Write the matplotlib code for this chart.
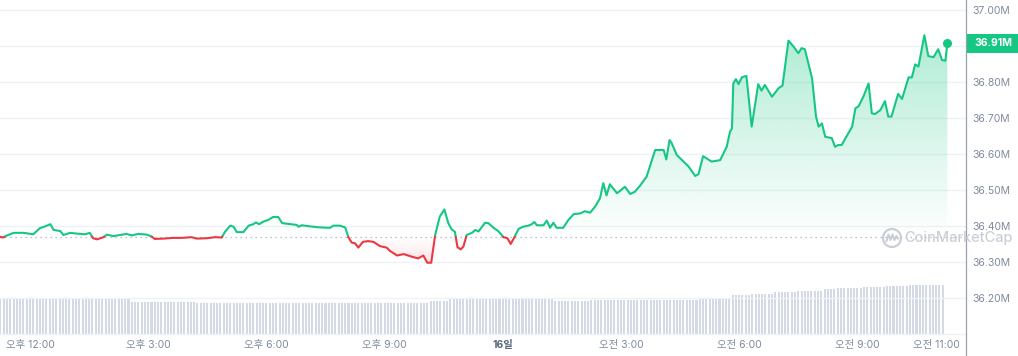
import numpy as np
import matplotlib
matplotlib.use("Agg")
import matplotlib.pyplot as plt
from matplotlib.path import Path
from matplotlib.patches import PathPatch, Rectangle, Circle
from matplotlib.lines import Line2D
import matplotlib.transforms as mtransforms

plt.rcParams['font.family'] = ['Inter', 'Noto Sans CJK KR', 'DejaVu Sans']

# ---------------- data ----------------
# minutes after 12:00 (day 15) and market cap in $M
minutes = [-46, -41, -36, -25, -10, 5, 15, 23, 31, 36,
           46, 51, 61, 71, 84, 91, 96, 102, 112, 117,
           127, 137, 147, 155, 165, 178, 185, 190, 203, 218,
           231, 246, 254, 269, 282, 292, 297, 305, 310, 315,
           325, 333, 340, 344, 349, 355, 363, 370, 378, 384,
           393, 406, 409, 414, 426, 442, 457, 462, 472, 480,
           485, 490, 495, 500, 507, 515, 523, 533, 543, 548,
           559, 569, 581, 591, 599, 605, 611, 617, 624, 631,
           637, 642, 647, 651, 656, 660, 665, 673, 678, 683,
           693, 698, 706, 713, 721, 727, 732, 737, 744, 751,
           759, 764, 768, 772, 782, 787, 792, 797, 802, 812,
           820, 828, 838, 845, 853, 861, 868, 873, 878, 883,
           894, 906, 914, 921, 929, 939, 952, 965, 969, 974,
           977, 985, 993, 1003, 1013, 1018, 1025, 1038, 1051, 1061,
           1066, 1069, 1071, 1075, 1079, 1084, 1091, 1099, 1109, 1114,
           1119, 1130, 1140, 1146, 1155, 1163, 1170, 1175, 1180, 1191,
           1197, 1201, 1206, 1211, 1221, 1226, 1231, 1236, 1252, 1257,
           1262, 1269, 1277, 1282, 1287, 1295, 1302, 1307, 1312, 1322,
           1328, 1338, 1343, 1348, 1353, 1362, 1368, 1376, 1383, 1389,
           1394, 1397]

mcap = [36.370, 36.368, 36.373, 36.381, 36.381, 36.377, 36.394, 36.399, 36.405, 36.389,
        36.386, 36.375, 36.381, 36.379, 36.377, 36.381, 36.366, 36.363, 36.369, 36.376,
        36.372, 36.375, 36.378, 36.374, 36.378, 36.376, 36.371, 36.364, 36.365, 36.367,
        36.367, 36.369, 36.365, 36.366, 36.369, 36.368, 36.384, 36.401, 36.398, 36.383,
        36.383, 36.401, 36.405, 36.410, 36.405, 36.412, 36.417, 36.425, 36.425, 36.408,
        36.406, 36.403, 36.398, 36.402, 36.399, 36.396, 36.395, 36.401, 36.401, 36.396,
        36.368, 36.354, 36.352, 36.340, 36.356, 36.358, 36.356, 36.344, 36.340, 36.331,
        36.318, 36.322, 36.315, 36.310, 36.318, 36.298, 36.298, 36.375, 36.426, 36.446,
        36.408, 36.391, 36.384, 36.341, 36.335, 36.343, 36.375, 36.381, 36.389, 36.385,
        36.409, 36.408, 36.395, 36.386, 36.369, 36.366, 36.350, 36.366, 36.392, 36.398,
        36.401, 36.405, 36.411, 36.402, 36.402, 36.415, 36.395, 36.409, 36.395, 36.395,
        36.417, 36.433, 36.435, 36.441, 36.437, 36.455, 36.477, 36.519, 36.485, 36.516,
        36.491, 36.509, 36.489, 36.495, 36.512, 36.537, 36.611, 36.611, 36.585, 36.639,
        36.631, 36.597, 36.583, 36.565, 36.539, 36.544, 36.594, 36.579, 36.583, 36.620,
        36.662, 36.671, 36.796, 36.808, 36.794, 36.813, 36.817, 36.676, 36.794, 36.776,
        36.792, 36.759, 36.783, 36.790, 36.915, 36.898, 36.880, 36.894, 36.891, 36.810,
        36.704, 36.676, 36.685, 36.648, 36.644, 36.620, 36.625, 36.625, 36.676, 36.727,
        36.733, 36.759, 36.796, 36.713, 36.711, 36.722, 36.747, 36.704, 36.704, 36.767,
        36.753, 36.813, 36.813, 36.849, 36.843, 36.930, 36.872, 36.869, 36.891, 36.861,
        36.859, 36.908]

# volume bars (5-minute bars), read as plateaus: (number of bars, volume in $B)
vol_counts = [40, 20, 71, 6, 32, 11, 33, 10, 6, 7, 7, 8, 4, 8, 7, 7, 11]
vol_levels = [1.40, 1.29, 1.25, 1.32, 1.39, 1.32, 1.38, 1.44, 1.56, 1.61,
              1.67, 1.72, 1.79, 1.83, 1.88, 1.92, 1.97]
vol_start_min = -45
vol_step_min = 5

tick_minutes = [0, 180, 360, 540, 720, 900, 1080, 1260, 1380]
tick_labels = ['오후 12:00', '오후 3:00', '오후 6:00', '오후 9:00', '16일',
               '오전 3:00', '오전 6:00', '오전 9:00', '오전 11:00']
y_ticks = [36.2, 36.3, 36.4, 36.5, 36.6, 36.7, 36.8, 37.0]
last_label = '36.91M'

# ---------------- style ----------------
GREEN = '#16c784'
RED = '#ea3943'
GRID = '#eff2f5'
TXT = '#808a9d'

W, H = 1018, 356
fig = plt.figure(figsize=(W / 100, H / 100), dpi=100)
ax_right_px = 966
ax_bottom_px = 334
rect = [0, (H - ax_bottom_px) / H, ax_right_px / W, ax_bottom_px / H]

XMIN, XMAX = -45.7, 1425.4
YMIN, YMAX = 36.10, 37.0278

# volume axes (behind)
ax_v = fig.add_axes(rect)
vol = np.repeat(vol_levels, vol_counts)
vol_t = vol_start_min + vol_step_min * np.arange(len(vol))
ax_v.bar(vol_t, vol, width=3.1, color='#d3d9e5', linewidth=0, align='center')
ax_v.set_xlim(XMIN, XMAX)
ax_v.set_ylim(0, 13.36)
ax_v.axis('off')

# main axes
ax = fig.add_axes(rect)
ax.patch.set_alpha(0)
ax.set_xlim(XMIN, XMAX)
ax.set_ylim(YMIN, YMAX)
for s in ax.spines.values():
    s.set_visible(False)

for g in [36.1] + [36.2, 36.3, 36.4, 36.5, 36.6, 36.7, 36.8, 36.9, 37.0]:
    ax.axhline(g, color=GRID, lw=1.0, zorder=0, clip_on=False)

t = np.array(minutes, float)
v = np.array(mcap, float)
base = v[0]

# insert crossing points
tt, vv = [t[0]], [v[0]]
for i in range(1, len(t)):
    d0, d1 = v[i - 1] - base, v[i] - base
    if d0 * d1 < 0:
        f = d0 / (d0 - d1)
        tt.append(t[i - 1] + f * (t[i] - t[i - 1]))
        vv.append(base)
    tt.append(t[i])
    vv.append(v[i])
tt = np.array(tt)
vv = np.array(vv)


def grad_fill(where, color, y_from, y_to, a_from, a_to):
    coll = ax.fill_between(tt, vv, base, where=where, interpolate=True,
                           facecolor='none', edgecolor='none')
    paths = coll.get_paths()
    coll.remove()
    if not paths:
        return
    cp = Path.make_compound_path(*paths)
    patch = PathPatch(cp, transform=ax.transData, facecolor='none', edgecolor='none')
    ax.add_patch(patch)
    n = 256
    rgb = matplotlib.colors.to_rgb(color)
    img = np.zeros((n, 1, 4))
    img[:, 0, :3] = rgb
    img[:, 0, 3] = np.linspace(a_from, a_to, n)[:, None].ravel()
    lo, hi = min(y_from, y_to), max(y_from, y_to)
    if y_from > y_to:
        img = img[::-1]
    im = ax.imshow(img, extent=[tt[0], tt[-1], lo, hi], origin='lower',
                   aspect='auto', zorder=1, interpolation='bilinear')
    im.set_clip_path(patch)


grad_fill(vv >= base, GREEN, base, 36.93, 0.0, 0.34)
grad_fill(vv <= base, RED, base, 36.29, 0.0, 0.16)

ax.set_xlim(XMIN, XMAX)
ax.set_ylim(YMIN, YMAX)

# baseline dotted
ax.axhline(base, color='#a6aebd', lw=0.9, ls=(0, (1, 3)), zorder=2)

up = np.ma.masked_where(vv < base, vv)
dn = np.ma.masked_where(vv > base, vv)
ax.plot(tt, up, color=GREEN, lw=1.5, solid_joinstyle='round', solid_capstyle='round', zorder=3)
ax.plot(tt, dn, color=RED, lw=1.5, solid_joinstyle='round', solid_capstyle='round', zorder=3)
ax.plot([t[-1]], [v[-1]], 'o', color=GREEN, ms=5.5, zorder=4)

# axes ticks
ax.set_xticks(tick_minutes)
ax.set_xticklabels(tick_labels)
ax.tick_params(axis='x', length=0, pad=4.5, labelsize=7.5, labelcolor=TXT)
for lbl in ax.get_xticklabels():
    if lbl.get_text() == '16일':
        lbl.set_color('#58667e')
        lbl.set_fontweight('bold')
ax.yaxis.tick_right()
ax.set_yticks(y_ticks)
ax.set_yticklabels([f'{y:.2f}M' for y in y_ticks])
ax.tick_params(axis='y', length=0, pad=4.5, labelsize=7.5, labelcolor=TXT)

# right axis line
fig.add_artist(Line2D([ax_right_px / W, ax_right_px / W], [0, 1], transform=fig.transFigure,
                      color='#9aa1ad', lw=0.9))

# price badge
bt = mtransforms.blended_transform_factory(fig.transFigure, ax.transData)
bh = 19 / 360.0
ax.add_patch(Rectangle((ax_right_px / W, v[-1] - bh / 2), 1 - ax_right_px / W, bh,
                       transform=bt, facecolor=GREEN, edgecolor='none', clip_on=False, zorder=10))
ax.text(993.5 / W, v[-1], last_label, transform=bt, ha='center', va='center',
        color='white', fontsize=7.5, fontweight='bold', zorder=11, clip_on=False)

# watermark
wy = (H - 238) / H
fig.add_artist(Circle((892 / W, wy), 0.0, transform=fig.transFigure))
circ = Circle((892, H - 238), 9, transform=None, facecolor='none',
              edgecolor='#c5cad3', lw=1.6, alpha=0.9)
fig.add_artist(circ)
zx = np.array([-5.5, -3.5, -1.5, 0.5, 2.5, 4.5, 6.0]) + 892
zy = np.array([-3.0, 3.5, -2.0, 3.5, -2.0, 2.0, -0.5]) + (H - 238)
fig.add_artist(Line2D(zx, zy, transform=None, color='#c5cad3', lw=1.5, alpha=0.9))
fig.text(904 / W, wy, 'CoinMarketCap', ha='left', va='center', fontsize=10.5,
         color='#c5cad3', alpha=0.9, fontweight='medium')

fig.savefig('out.png', dpi=100)
